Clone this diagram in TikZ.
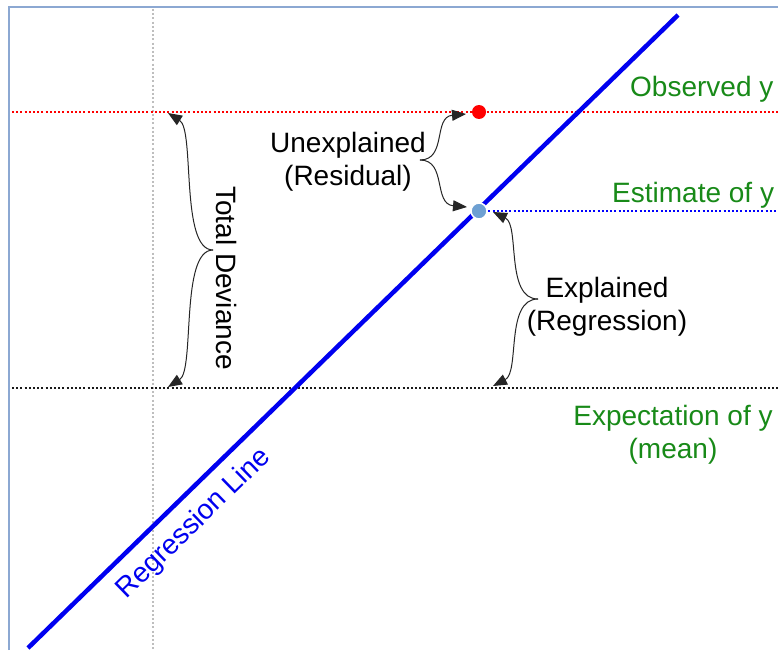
\documentclass[tikz,border=0pt]{standalone}
\usepackage{fontspec}
\setmainfont{Liberation Sans}
\usetikzlibrary{arrows.meta}
\definecolor{lblgreen}{RGB}{24,138,24}
\definecolor{regblue}{RGB}{0,0,240}
\definecolor{framec}{RGB}{140,168,210}
\definecolor{dotblue}{RGB}{110,160,210}
\definecolor{gridgray}{RGB}{190,190,190}
\begin{document}
\begin{tikzpicture}[x=1pt,y=-1pt,
  dotline/.style={line width=2.2pt, dash pattern=on 2pt off 2.2pt},
  bracearrow/.style={draw=black!85, line width=1pt, -{Triangle[length=14pt,width=11pt]}},
  lbl/.style={font=\fontsize{28}{33}\selectfont, inner sep=0pt, align=center},
  greenlbl/.style={lbl, text=lblgreen},
  pt/.style={circle, inner sep=0pt, minimum size=14pt}
]
\useasboundingbox (0,0) rectangle (778,650);
\fill[white] (0,0) rectangle (778,650);

% coordinates
\coordinate (frBL) at (9,650);
\coordinate (frTL) at (9,7);
\coordinate (frTR) at (778,7);
\coordinate (gvT) at (153,9);
\coordinate (gvB) at (153,650);
\coordinate (obsL) at (12,112);
\coordinate (obsR) at (778,112);
\coordinate (meanL) at (12,388);
\coordinate (meanR) at (778,388);
\coordinate (estR) at (778,211);
\coordinate (rlA) at (28,648);
\coordinate (rlB) at (678,15);

% frame
\draw[framec, line width=1.5pt] (frBL) -- (frTL) -- (frTR);

% dotted guide lines
\draw[dotline, gridgray] (gvT) -- (gvB);
\draw[dotline, red] (obsL) -- (obsR);
\draw[dotline, black!90] (meanL) -- (meanR);
\coordinate (estL) at (480,211);
\draw[dotline, blue] (estL) -- (estR);

% regression line
\draw[regblue, line width=4.5pt] (rlA) -- (rlB);

% points
\node[pt, fill=red] (obs) at (479,112) {};
\node[pt, fill=dotblue, draw=white, line width=1.5pt, minimum size=16pt] (est) at (479,211) {};

% brace coordinates
\coordinate (tdMid) at (213,250);
\coordinate (tdTop) at (168,113);
\coordinate (tdBot) at (168,387);
\coordinate (unMid) at (420,160);
\coordinate (unTop) at (466,114);
\coordinate (unBot) at (467,207);
\coordinate (exMid) at (538,299);
\coordinate (exTop) at (493,212);
\coordinate (exBot) at (493,386);

% braces
\draw[bracearrow] (tdMid) .. controls (180,250) and (195,130) .. (tdTop);
\draw[bracearrow] (tdMid) .. controls (180,250) and (195,370) .. (tdBot);
\draw[bracearrow] (unMid) .. controls (447,160) and (433,117) .. (unTop);
\draw[bracearrow] (unMid) .. controls (447,160) and (433,204) .. (unBot);
\draw[bracearrow] (exMid) .. controls (505,299) and (520,225) .. (exTop);
\draw[bracearrow] (exMid) .. controls (505,299) and (520,372) .. (exBot);

% labels
\node[lbl, rotate=-90] (tdLbl) at (227,278) {Total Deviance};
\node[lbl] (unLbl) at (348,162) {Unexplained\\(Residual)};
\node[lbl] (exLbl) at (607,307) {Explained\\(Regression)};
\node[greenlbl, anchor=base west] (obsLbl) at (630,97) {Observed y};
\node[greenlbl, anchor=base west] (estLbl) at (612,202) {Estimate of y};
\node[greenlbl] (meanLbl) at (673,435) {Expectation of y\\(mean)};
\node[lbl, text=regblue, rotate=44.2] (rlLbl) at (194,524) {Regression Line};
\end{tikzpicture}
\end{document}
